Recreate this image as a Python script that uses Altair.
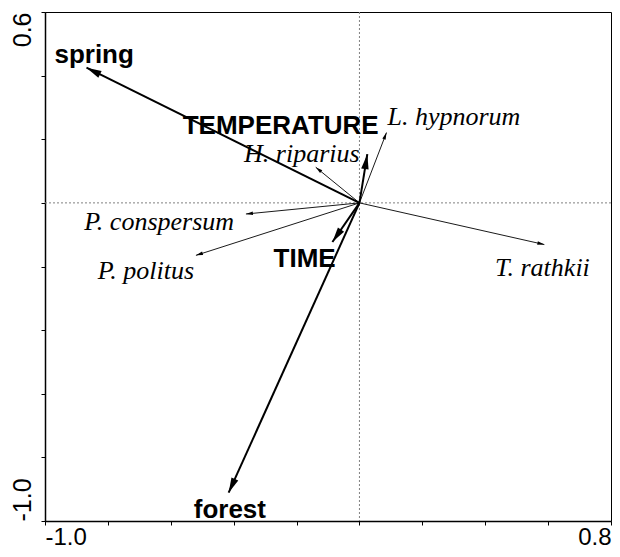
import altair as alt
import pandas as pd

# Environmental variables (arrow tips) and label anchors (left edge, baseline)
env_names = ["spring", "TEMPERATURE", "TIME", "forest"]
env_x = [-0.868, 0.025, -0.086, -0.416]
env_y = [0.425, 0.153, -0.123, -0.911]
env_label_x = [-0.970, -0.562, -0.273, -0.527]
env_label_y = [0.440, 0.216, -0.202, -0.992]

# Species (arrow tips) and label anchors
sp_names = ["L. hypnorum", "H. riparius", "P. conspersum", "P. politus", "T. rathkii"]
sp_x = [0.086, -0.139, -0.361, -0.520, 0.588]
sp_y = [0.221, 0.112, -0.035, -0.165, -0.131]
sp_label_x = [0.089, -0.367, -0.875, -0.832, 0.431]
sp_label_y = [0.244, 0.130, -0.085, -0.240, -0.230]

x_ticks = [-1.0, -0.8, -0.6, -0.4, -0.2, 0.0, 0.2, 0.4, 0.6, 0.8]
y_ticks = [-1.0, -0.8, -0.6, -0.4, -0.2, 0.0, 0.2, 0.4, 0.6]
x_shown = [(-1.0, "-1.0"), (0.8, "0.8")]
y_shown = [(-1.0, "-1.0"), (0.6, "0.6")]


def label_expr(shown):
    expr = "''"
    for v, t in reversed(shown):
        expr = f"abs(datum.value - ({v})) < 1e-6 ? '{t}' : {expr}"
    return expr


env = pd.DataFrame({"name": env_names, "x": env_x, "y": env_y,
                    "lx": env_label_x, "ly": env_label_y})
sp = pd.DataFrame({"name": sp_names, "x": sp_x, "y": sp_y,
                   "lx": sp_label_x, "ly": sp_label_y})

xscale = alt.Scale(domain=[-1.0, 0.8], nice=False, zero=False)
yscale = alt.Scale(domain=[-1.0, 0.6], nice=False, zero=False)

xaxis = alt.Axis(values=x_ticks, labelExpr=label_expr(x_shown), labelFlush=True,
                 grid=False, title=None, tickSize=4, labelFontSize=24,
                 labelFont="Liberation Sans", labelColor="black", domainColor="black",
                 tickColor="black", labelPadding=0, domainWidth=1.5, labelOverlap=False)
yaxis = alt.Axis(values=y_ticks, labelExpr=label_expr(y_shown), labelAngle=270,
                 labelAlign={"condition": {"test": "datum.value > 0", "value": "right"},
                             "value": "left"},
                 labelBaseline="alphabetic", grid=False, title=None, tickSize=4,
                 labelFontSize=25, labelFont="Liberation Sans", labelColor="black",
                 domainColor="black", tickColor="black", labelPadding=11,
                 domainWidth=1.5, labelOverlap=False)

base_x = alt.X("x:Q", scale=xscale, axis=xaxis)
base_y = alt.Y("y:Q", scale=yscale, axis=yaxis)

zero_df = pd.DataFrame({"z": [0.0]})
vline = alt.Chart(zero_df).mark_rule(color="#808080", strokeDash=[2, 2], strokeWidth=1).encode(
    x=alt.X("z:Q", scale=xscale, axis=xaxis))
hline = alt.Chart(zero_df).mark_rule(color="#808080", strokeDash=[2, 2], strokeWidth=1).encode(
    y=alt.Y("z:Q", scale=yscale, axis=yaxis))

head_path = "M0,0 L0.25,1 L-0.25,1 Z"
ang_expr = "(atan2(datum.x, datum.y) * 180 / PI + 360) % 360"

env_lines = alt.Chart(env).transform_calculate(o="0").mark_rule(
    color="black", strokeWidth=2).encode(x=base_x, y=base_y, x2="o:Q", y2="o:Q")
env_heads = alt.Chart(env).transform_calculate(ang=ang_expr).mark_point(
    shape=head_path, size=900, filled=True, opacity=1, color="black", strokeWidth=0
).encode(x=base_x, y=base_y, angle=alt.Angle("ang:Q", scale=None))
env_text = alt.Chart(env).mark_text(
    align="left", baseline="alphabetic", font="Liberation Sans", fontWeight="bold",
    fontSize=26, color="black"
).encode(x=alt.X("lx:Q", scale=xscale, axis=xaxis),
         y=alt.Y("ly:Q", scale=yscale, axis=yaxis), text="name:N")

sp_lines = alt.Chart(sp).transform_calculate(o="0").mark_rule(
    color="black", strokeWidth=0.9).encode(x=base_x, y=base_y, x2="o:Q", y2="o:Q")
sp_heads = alt.Chart(sp).transform_calculate(ang=ang_expr).mark_point(
    shape=head_path, size=196, filled=True, opacity=1, color="black", strokeWidth=0
).encode(x=base_x, y=base_y, angle=alt.Angle("ang:Q", scale=None))
sp_text = alt.Chart(sp).mark_text(
    align="left", baseline="alphabetic", font="Liberation Serif", fontStyle="italic",
    fontSize=26, color="black"
).encode(x=alt.X("lx:Q", scale=xscale, axis=xaxis),
         y=alt.Y("ly:Q", scale=yscale, axis=yaxis), text="name:N")

chart = alt.layer(vline, hline, sp_lines, sp_heads, env_lines, env_heads,
                  sp_text, env_text).properties(
    width=566, height=509,
    autosize=alt.AutoSizeParams(type="none"),
    padding={"left": 37, "top": 4, "right": 1, "bottom": 28},
    background="white",
).configure_view(stroke="black", strokeWidth=1)

chart.save("out.html", embed_options={"renderer": "svg", "actions": False})
